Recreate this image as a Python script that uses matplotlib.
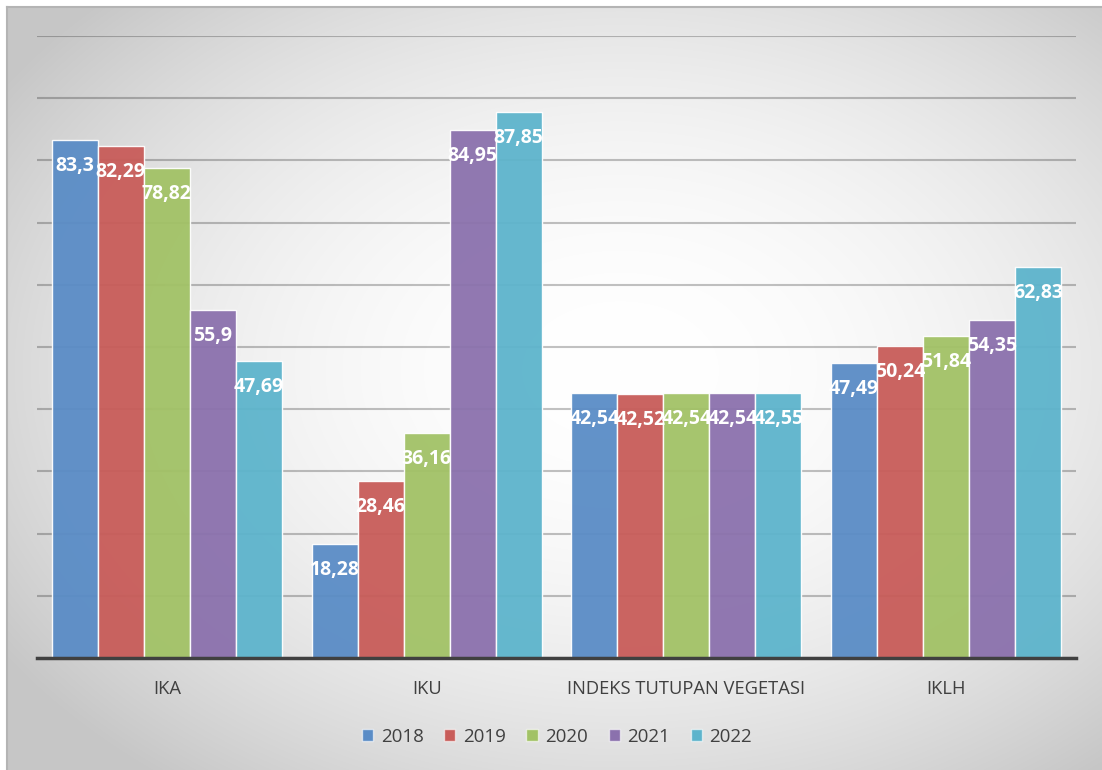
import numpy as np
import matplotlib
matplotlib.use("Agg")
import matplotlib.pyplot as plt
from matplotlib.patches import Patch

# Data
categories = ["IKA", "IKU", "INDEKS TUTUPAN VEGETASI", "IKLH"]
years = ["2018", "2019", "2020", "2021", "2022"]
v2018 = [83.3, 18.28, 42.54, 47.49]
v2019 = [82.29, 28.46, 42.52, 50.24]
v2020 = [78.82, 36.16, 42.54, 51.84]
v2021 = [55.9, 84.95, 42.54, 54.35]
v2022 = [47.69, 87.85, 42.55, 62.83]
series = [v2018, v2019, v2020, v2021, v2022]
colors = ["#5a8cc6", "#c85c59", "#a2c266", "#8b71ad", "#5db4cc"]

W, H = 1102, 770
fig = plt.figure(figsize=(W / 100, H / 100), dpi=100)
fig.patch.set_facecolor("white")

# Background radial gradient (chart area)
bg = fig.add_axes([7 / W, 0, 1 - 7 / W, 1 - 7 / H], zorder=0)
yy, xx = np.mgrid[7:H, 7:W]
d = np.sqrt(((xx - 620) / 640.0) ** 2 + ((yy - 370) / 450.0) ** 2)
v = 1 - 0.22 * (np.clip(d, 0, 1.15) / 1.15) ** 2.0
img = np.dstack([v, v, v])
bg.imshow(img, aspect="auto", interpolation="bilinear")
bg.set_xticks([])
bg.set_yticks([])
for s in ["right", "bottom"]:
    bg.spines[s].set_visible(False)
for s in ["left", "top"]:
    bg.spines[s].set_color("#b4b4b4")
    bg.spines[s].set_linewidth(1.5)

# Plot area
ax = fig.add_axes([37 / W, (H - 658) / H, 1039 / W, 622 / H], zorder=1)
ax.patch.set_alpha(0)
x = np.arange(len(categories))
bw = 46 / 259.75
for i, vals in enumerate(series):
    pos = x + (i - 2) * bw
    ax.bar(pos, vals, width=bw, color=colors[i], alpha=0.95,
           edgecolor=(1, 1, 1, 0.45), linewidth=1, zorder=2)
    for px, val in zip(pos, vals):
        ax.annotate(str(val).replace(".", ","), (px, val), xytext=(0, -26),
                    textcoords="offset pixels", ha="center", va="center",
                    color="white", fontsize=14, fontweight="bold",
                    family="Open Sans", zorder=4)

ax.set_xlim(-0.5, 3.5)
ax.set_ylim(0, 100)
ax.set_yticks(range(0, 101, 10))
ax.yaxis.grid(True, color="black", alpha=0.24, linewidth=1.5)
ax.set_axisbelow(True)
ax.tick_params(axis="y", length=0, labelleft=False)
ax.tick_params(axis="x", length=0, pad=16)
ax.set_xticks(x)
ax.set_xticklabels(categories, fontsize=13.2, color="#404040", family="Open Sans")
for s in ["left", "right", "top"]:
    ax.spines[s].set_visible(False)
ax.spines["bottom"].set_color("#404040")
ax.spines["bottom"].set_linewidth(2.5)
ax.spines["bottom"].set_zorder(3)

# Legend
handles = [Patch(facecolor=c, edgecolor=(1, 1, 1, 0.6)) for c in colors]
fig.legend(handles, years, loc="center", bbox_to_anchor=(557 / W, 33 / H),
           ncol=5, frameon=False, prop={"family": "Open Sans", "size": 13.5},
           handlelength=0.6, handleheight=0.6, handletextpad=0.4,
           columnspacing=1.1, labelcolor="#404040")

fig.savefig("out.png", dpi=100)
